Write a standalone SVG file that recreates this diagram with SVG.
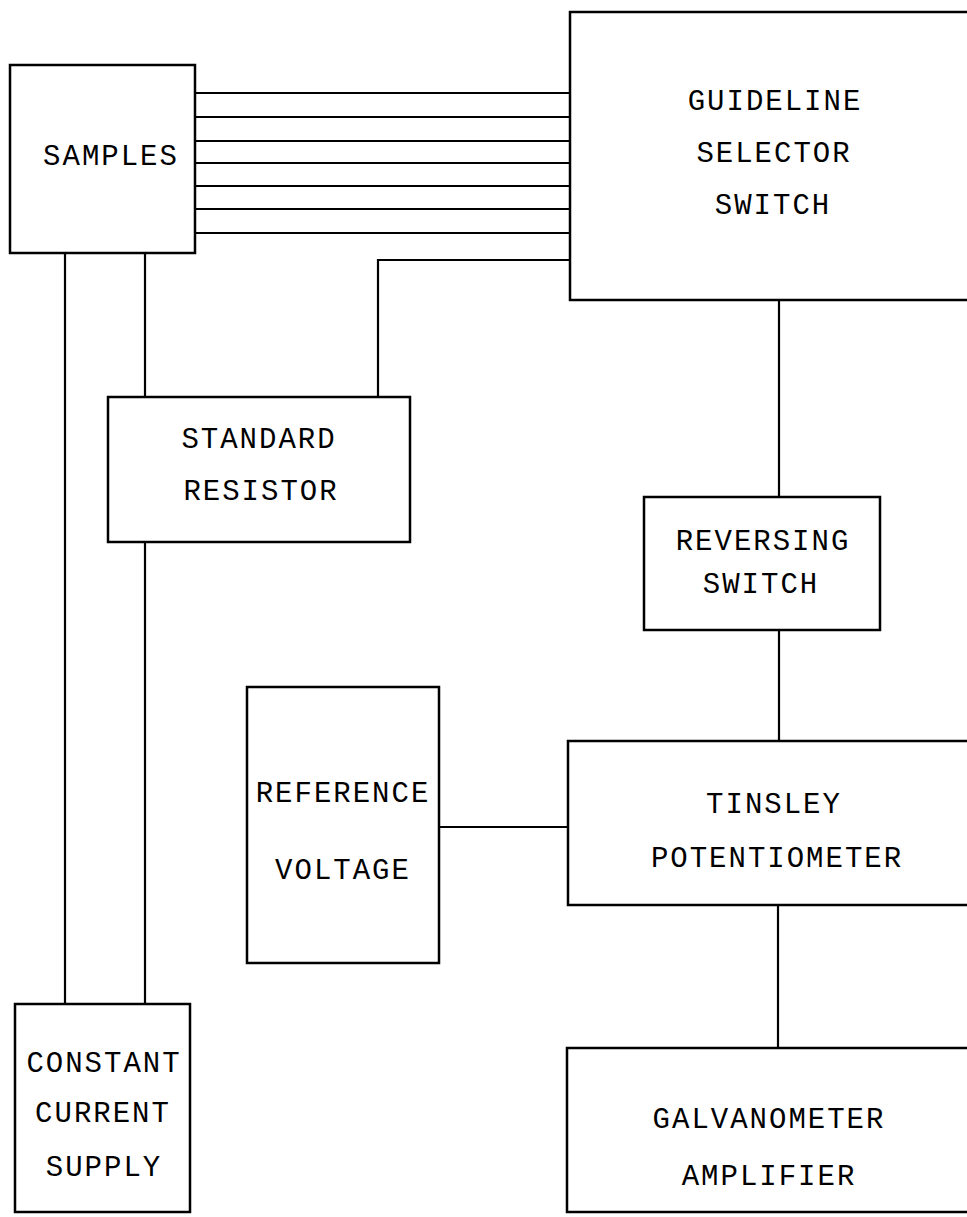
<svg xmlns="http://www.w3.org/2000/svg" width="967" height="1217" viewBox="0 0 967 1217">
<style>
  .box { fill: #ffffff; stroke: #000000; stroke-width: 2.5; }
  .wire { fill: none; stroke: #000000; stroke-width: 2.2; }
  .lbl { font-family: "Liberation Mono", "Courier New", monospace; font-size: 29px; letter-spacing: 2px; text-anchor: middle; fill: #000000; }
</style>
<rect x="0" y="0" width="967" height="1217" fill="#ffffff"/>
<g id="connectors">
  <line class="wire" x1="195" y1="93" x2="570" y2="93"/>
  <line class="wire" x1="195" y1="117" x2="570" y2="117"/>
  <line class="wire" x1="195" y1="141" x2="570" y2="141"/>
  <line class="wire" x1="195" y1="163" x2="570" y2="163"/>
  <line class="wire" x1="195" y1="186" x2="570" y2="186"/>
  <line class="wire" x1="195" y1="209" x2="570" y2="209"/>
  <line class="wire" x1="195" y1="233" x2="570" y2="233"/>
  <polyline class="wire" points="570,260 378,260 378,397"/>
  <line class="wire" x1="65" y1="253" x2="65" y2="1004"/>
  <line class="wire" x1="145" y1="253" x2="145" y2="397"/>
  <line class="wire" x1="145" y1="542" x2="145" y2="1004"/>
  <line class="wire" x1="779" y1="300" x2="779" y2="497"/>
  <line class="wire" x1="779" y1="630" x2="779" y2="741"/>
  <line class="wire" x1="439" y1="827" x2="568" y2="827"/>
  <line class="wire" x1="778" y1="905" x2="778" y2="1048"/>
</g>
<g id="samples">
  <rect class="box" x="10" y="65" width="185" height="188"/>
  <text class="lbl" x="111" y="165">SAMPLES</text>
</g>
<g id="guideline-selector-switch">
  <rect class="box" x="570" y="12" width="410" height="288"/>
  <text class="lbl" x="775" y="110">GUIDELINE</text>
  <text class="lbl" x="774" y="162">SELECTOR</text>
  <text class="lbl" x="773" y="214">SWITCH</text>
</g>
<g id="standard-resistor">
  <rect class="box" x="108" y="397" width="302" height="145"/>
  <text class="lbl" x="259" y="448">STANDARD</text>
  <text class="lbl" x="261" y="500">RESISTOR</text>
</g>
<g id="reversing-switch">
  <rect class="box" x="644" y="497" width="236" height="133"/>
  <text class="lbl" x="763" y="550">REVERSING</text>
  <text class="lbl" x="761" y="593">SWITCH</text>
</g>
<g id="reference-voltage">
  <rect class="box" x="247" y="687" width="192" height="276"/>
  <text class="lbl" x="343" y="802">REFERENCE</text>
  <text class="lbl" x="343" y="879">VOLTAGE</text>
</g>
<g id="tinsley-potentiometer">
  <rect class="box" x="568" y="741" width="412" height="164"/>
  <text class="lbl" x="774" y="813">TINSLEY</text>
  <text class="lbl" x="777" y="867">POTENTIOMETER</text>
</g>
<g id="constant-current-supply">
  <rect class="box" x="15" y="1004" width="175" height="208"/>
  <text class="lbl" x="104" y="1072">CONSTANT</text>
  <text class="lbl" x="103" y="1122">CURRENT</text>
  <text class="lbl" x="104" y="1176">SUPPLY</text>
</g>
<g id="galvanometer-amplifier">
  <rect class="box" x="567" y="1048" width="413" height="164"/>
  <text class="lbl" x="769" y="1128">GALVANOMETER</text>
  <text class="lbl" x="769" y="1185">AMPLIFIER</text>
</g>
</svg>
